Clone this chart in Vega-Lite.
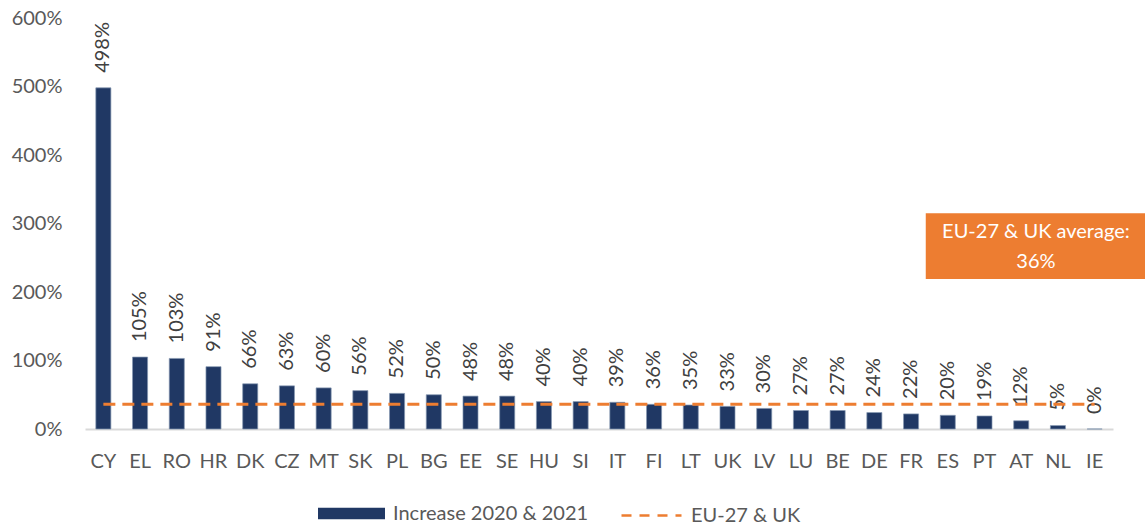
{
  "$schema": "https://vega.github.io/schema/vega-lite/v6.json",
  "autosize": "none",
  "width": 1028,
  "height": 411,
  "padding": {"left": 85, "top": 18, "right": 32, "bottom": 97},
  "background": "white",
  "config": {
    "view": {"stroke": null},
    "font": "Lato",
    "legend": {"labelFont": "Lato", "labelFontSize": 20, "labelColor": "#595959", "padding": 0, "labelLimit": 400}
  },
  "datasets": {
    "main": [
      {"country": "CY", "value": 4.98, "avg": 0.36},
      {"country": "EL", "value": 1.05, "avg": 0.36},
      {"country": "RO", "value": 1.03, "avg": 0.36},
      {"country": "HR", "value": 0.91, "avg": 0.36},
      {"country": "DK", "value": 0.66, "avg": 0.36},
      {"country": "CZ", "value": 0.63, "avg": 0.36},
      {"country": "MT", "value": 0.60, "avg": 0.36},
      {"country": "SK", "value": 0.56, "avg": 0.36},
      {"country": "PL", "value": 0.52, "avg": 0.36},
      {"country": "BG", "value": 0.50, "avg": 0.36},
      {"country": "EE", "value": 0.48, "avg": 0.36},
      {"country": "SE", "value": 0.48, "avg": 0.36},
      {"country": "HU", "value": 0.40, "avg": 0.36},
      {"country": "SI", "value": 0.40, "avg": 0.36},
      {"country": "IT", "value": 0.39, "avg": 0.36},
      {"country": "FI", "value": 0.36, "avg": 0.36},
      {"country": "LT", "value": 0.35, "avg": 0.36},
      {"country": "UK", "value": 0.33, "avg": 0.36},
      {"country": "LV", "value": 0.30, "avg": 0.36},
      {"country": "LU", "value": 0.27, "avg": 0.36},
      {"country": "BE", "value": 0.27, "avg": 0.36},
      {"country": "DE", "value": 0.24, "avg": 0.36},
      {"country": "FR", "value": 0.22, "avg": 0.36},
      {"country": "ES", "value": 0.20, "avg": 0.36},
      {"country": "PT", "value": 0.19, "avg": 0.36},
      {"country": "AT", "value": 0.12, "avg": 0.36},
      {"country": "NL", "value": 0.05, "avg": 0.36},
      {"country": "IE", "value": 0.00, "avg": 0.36}
    ],
    "box": [
      {"x1": 22.9, "x2": 28.9, "y1": 2.19, "y2": 3.15}
    ],
    "boxtext": [
      {"x": 25.9, "y": 2.876, "label": "EU-27 & UK average:"},
      {"x": 25.9, "y": 2.438, "label": "36%"}
    ]
  },
  "layer": [
    {
      "data": {"name": "main"},
      "layer": [
        {
          "mark": {"type": "bar", "stroke": "#8497b0", "strokeWidth": 1, "strokeOpacity": 0.7},
          "encoding": {
            "x": {
              "field": "country", "type": "nominal", "sort": null,
              "scale": {"paddingInner": 0.59, "paddingOuter": 0.295},
              "axis": {"title": null, "labelAngle": 0, "ticks": false, "domainColor": "#d9d9d9", "domainWidth": 2, "labelFont": "Lato", "labelFontSize": 20, "labelColor": "#595959", "labelPadding": 22}
            },
            "y": {
              "field": "value", "type": "quantitative",
              "scale": {"domain": [0, 6], "nice": false},
              "axis": {"title": null, "format": ".0%", "values": [0, 1, 2, 3, 4, 5, 6], "labelOverlap": false, "grid": false, "domain": false, "ticks": false, "labelFont": "Lato", "labelFontSize": 20, "labelColor": "#595959", "labelPadding": 23}
            },
            "color": {
              "datum": "Increase 2020 & 2021", "type": "nominal",
              "scale": {"range": ["#203864"]},
              "legend": {"title": null, "orient": "none", "legendX": 233, "legendY": 462, "symbolType": "M-1,-0.17H1V0.17H-1Z", "symbolSize": 4489, "symbolStrokeWidth": 0, "labelOffset": 8}
            }
          }
        },
        {
          "mark": {"type": "text", "angle": 270, "align": "left", "baseline": "middle", "dx": 15, "font": "Lato", "fontSize": 20, "color": "#404040"},
          "encoding": {
            "x": {"field": "country", "type": "nominal", "sort": null},
            "y": {"field": "value", "type": "quantitative"},
            "text": {"field": "value", "type": "quantitative", "format": ".0%"}
          }
        },
        {
          "mark": {"type": "line", "strokeDash": [12, 7], "strokeWidth": 3},
          "encoding": {
            "x": {"field": "country", "type": "nominal", "sort": null},
            "y": {"field": "avg", "type": "quantitative"},
            "stroke": {
              "datum": "EU-27 & UK", "type": "nominal",
              "scale": {"range": ["#ed7d31"]},
              "legend": {"title": null, "orient": "none", "legendX": 535, "legendY": 466, "symbolType": "stroke", "symbolSize": 3600, "symbolStrokeWidth": 2.5, "symbolDash": [10, 8], "labelOffset": 8}
            }
          }
        }
      ]
    },
    {
      "layer": [
        {
          "data": {"name": "box"},
          "mark": {"type": "rect", "color": "#ed7d31"},
          "encoding": {
            "x": {"field": "x1", "type": "quantitative", "scale": {"domain": [0, 28], "nice": false, "zero": false}, "axis": null},
            "x2": {"field": "x2"},
            "y": {"field": "y1", "type": "quantitative"},
            "y2": {"field": "y2"}
          }
        },
        {
          "data": {"name": "boxtext"},
          "mark": {"type": "text", "align": "center", "baseline": "middle", "font": "Lato", "fontSize": 20, "color": "white"},
          "encoding": {
            "x": {"field": "x", "type": "quantitative", "axis": null},
            "y": {"field": "y", "type": "quantitative"},
            "text": {"field": "label"}
          }
        }
      ]
    }
  ],
  "resolve": {"scale": {"x": "independent"}}
}
